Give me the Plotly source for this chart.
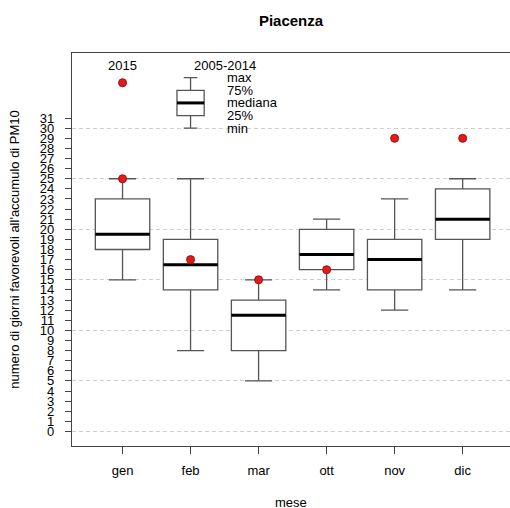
import plotly.graph_objects as go

months = ["gen", "feb", "mar", "ott", "nov", "dic"]
pos = [1, 2, 3, 4, 5, 6]
mins = [15, 8, 5, 14, 12, 14]
q1 = [18, 14, 8, 16, 14, 19]
med = [19.5, 16.5, 11.5, 17.5, 17, 21]
q3 = [23, 19, 13, 20, 19, 24]
maxs = [25, 25, 15, 21, 23, 25]
val2015 = [25, 17, 15, 16, 29, 29]

# legend key
key_x = 2
key_vals = [30, 31.25, 32.5, 33.75, 35]
key_labels = ["min", "25%", "mediana", "75%", "max"]
key_dot = 34.5
key_text_y = 36.2

yticks = list(range(0, 32))
ygrid = [0, 5, 10, 15, 20, 25, 30]

FONT = "Liberation Sans, Arial, sans-serif"
BOXW = 0.8
KEYW = 0.4
BOXCOL = "#555555"
RED = "#e41a1c"

fig = go.Figure()

fig.add_trace(go.Box(
    x=pos, q1=q1, median=med, q3=q3, lowerfence=mins, upperfence=maxs,
    width=BOXW, whiskerwidth=0.5, fillcolor="white",
    line=dict(color=BOXCOL, width=1.3), boxpoints=False,
    showlegend=False, hoverinfo="skip"))

mx, my = [], []
for p, m in zip(pos, med):
    mx += [p - BOXW / 2, p + BOXW / 2, None]
    my += [m, m, None]
fig.add_trace(go.Scatter(x=mx, y=my, mode="lines",
                         line=dict(color="black", width=3),
                         showlegend=False, hoverinfo="skip"))

fig.add_trace(go.Scatter(x=pos, y=val2015, mode="markers",
                         marker=dict(color=RED, size=8,
                                     line=dict(color="#a01010", width=1)),
                         showlegend=False, hoverinfo="skip"))

# key box
fig.add_trace(go.Box(
    x=[key_x], q1=[key_vals[1]], median=[key_vals[2]], q3=[key_vals[3]],
    lowerfence=[key_vals[0]], upperfence=[key_vals[4]],
    width=KEYW, whiskerwidth=0.5, fillcolor="white",
    line=dict(color=BOXCOL, width=1.3), boxpoints=False,
    showlegend=False, hoverinfo="skip"))
fig.add_trace(go.Scatter(x=[key_x - KEYW / 2, key_x + KEYW / 2],
                         y=[key_vals[2], key_vals[2]], mode="lines",
                         line=dict(color="black", width=3),
                         showlegend=False, hoverinfo="skip"))
fig.add_trace(go.Scatter(x=[1], y=[key_dot], mode="markers",
                         marker=dict(color=RED, size=8,
                                     line=dict(color="#a01010", width=1)),
                         showlegend=False, hoverinfo="skip"))

# dummy trace for label axis
fig.add_trace(go.Scatter(x=[None], y=[None], yaxis="y2", showlegend=False,
                         hoverinfo="skip"))

ann = [
    dict(x=1, y=key_text_y, text="2015", xanchor="center"),
    dict(x=2.5, y=key_text_y, text="2005-2014", xanchor="center"),
]
for v, t in zip(key_vals, key_labels):
    ann.append(dict(x=2.5, y=v, text=t, xanchor="left"))
annotations = []
for a in ann:
    a.update(xref="x", yref="y", showarrow=False, yanchor="middle",
             font=dict(family=FONT, size=13, color="black"))
    annotations.append(a)

annotations.append(dict(xref="paper", yref="paper", x=-0.132, y=0.5,
                        xanchor="center", yanchor="middle",
                        text="numero di giorni favorevoli all'accumulo di PM10",
                        textangle=-90, showarrow=False,
                        font=dict(family=FONT, size=13, color="black")))
annotations.append(dict(xref="paper", yref="paper", x=0.5, y=-0.143,
                        xanchor="center", yanchor="middle", text="mese",
                        showarrow=False,
                        font=dict(family=FONT, size=13, color="black")))

yrange = [-1.44, 37.44]
fig.update_layout(
    width=510, height=508,
    margin=dict(l=72, r=0, t=53, b=62, autoexpand=False),
    paper_bgcolor="white", plot_bgcolor="white",
    title=dict(text="<b>Piacenza</b>", x=0.5, xref="paper", y=0.96,
               yanchor="middle", font=dict(family=FONT, size=15, color="black")),
    xaxis=dict(range=[0.257, 6.696], tickvals=pos, ticktext=months,
               ticks="outside", ticklen=7, tickcolor="#444",
               showline=True, mirror=True, linecolor="#444", linewidth=1.2,
               showgrid=False, zeroline=False, ticklabelstandoff=5,
               automargin=False,
               tickfont=dict(family=FONT, size=13, color="black")),
    yaxis=dict(range=yrange, tickvals=ygrid, showticklabels=False, ticks="",
               showgrid=True, gridcolor="#cfcfcf", griddash="4px,3px",
               gridwidth=1, zeroline=False, showline=False, automargin=False),
    yaxis2=dict(range=yrange, overlaying="y", side="left", anchor="x",
                tickvals=yticks, ticktext=[str(v) for v in yticks],
                ticks="outside", ticklen=6, tickcolor="#444",
                showline=True, linecolor="#444", linewidth=1.2,
                showgrid=False, zeroline=False, ticklabelstandoff=8,
                automargin=False,
                tickfont=dict(family=FONT, size=13, color="black")),
    annotations=annotations,
)

fig.write_html("out.html", config={"displayModeBar": False},
               post_script="document.body.style.margin='0';document.body.style.overflow='hidden';")
